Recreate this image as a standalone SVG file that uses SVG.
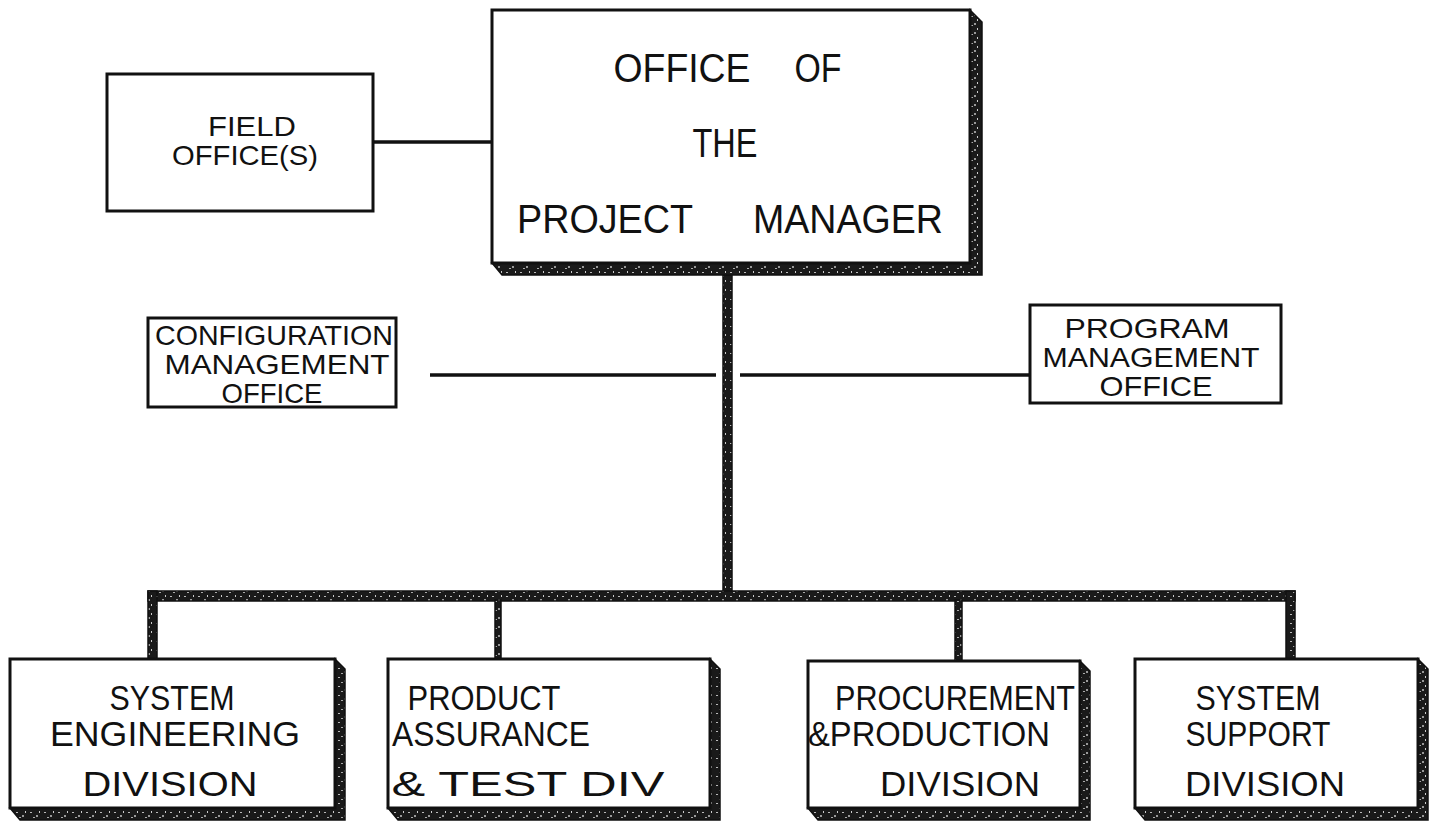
<svg xmlns="http://www.w3.org/2000/svg" width="1436" height="825" viewBox="0 0 1436 825">
<defs>
<pattern id="speck" width="14" height="9" patternUnits="userSpaceOnUse">
<rect width="14" height="9" fill="#1a1a1a"/>
<rect x="2" y="2" width="2" height="1" fill="#bbb"/>
<rect x="8" y="5" width="2" height="2" fill="#999"/>
<rect x="11" y="1" width="1" height="2" fill="#ccc"/>
<rect x="5" y="7" width="2" height="1" fill="#aaa"/>
</pattern>
<style>
.box{fill:#fff;stroke:#111;stroke-width:3}
.sh{fill:url(#speck);stroke:#111;stroke-width:1.5}
.ln{stroke:#111;stroke-width:3.5;fill:none}
.band{fill:url(#speck);stroke:#111;stroke-width:1.5}
text{font-family:"Liberation Sans",Arial,sans-serif;fill:#111;text-anchor:middle}
.big{font-size:41px}
.fld{font-size:28px}
.mid{font-size:28px}
.div{font-size:35px}
</style>
</defs>
<rect width="1436" height="825" fill="#fff"/>

<g id="connectors">
<line class="ln" x1="373" y1="142" x2="492" y2="142"/>
<line class="ln" x1="430" y1="375" x2="716" y2="375"/>
<line class="ln" x1="740" y1="375" x2="1030" y2="375"/>
<rect class="band" x="723" y="275" width="9" height="322"/>
<rect class="band" x="148" y="591" width="1147" height="10"/>
<rect class="band" x="148" y="591" width="9" height="68"/>
<rect class="band" x="495" y="600" width="6" height="59"/>
<rect class="band" x="955" y="600" width="7" height="61"/>
<rect class="band" x="1286" y="591" width="9" height="68"/>
</g>

<g id="pm">
<polygon class="sh" points="970,10 982,22 982,275 502,275 492,263 970,263"/>
<rect class="box" x="492" y="10" width="478" height="253"/>
<text class="big" x="682" y="82" textLength="137" lengthAdjust="spacingAndGlyphs">OFFICE</text>
<text class="big" x="818" y="82" textLength="47" lengthAdjust="spacingAndGlyphs">OF</text>
<text class="big" x="725" y="157" textLength="65" lengthAdjust="spacingAndGlyphs">THE</text>
<text class="big" x="605" y="233" textLength="176" lengthAdjust="spacingAndGlyphs">PROJECT</text>
<text class="big" x="848" y="233" textLength="190" lengthAdjust="spacingAndGlyphs">MANAGER</text>
</g>

<g id="field">
<rect class="box" x="107" y="74" width="266" height="137"/>
<text class="fld" x="252" y="136" textLength="88" lengthAdjust="spacingAndGlyphs">FIELD</text>
<text class="fld" x="245" y="165" textLength="146" lengthAdjust="spacingAndGlyphs">OFFICE(S)</text>
</g>

<g id="config">
<rect class="box" x="148" y="318" width="248" height="89"/>
<text class="mid" x="274" y="345" textLength="238" lengthAdjust="spacingAndGlyphs">CONFIGURATION</text>
<text class="mid" x="277" y="374" textLength="225" lengthAdjust="spacingAndGlyphs">MANAGEMENT</text>
<text class="mid" x="272" y="403" textLength="101" lengthAdjust="spacingAndGlyphs">OFFICE</text>
</g>

<g id="program">
<rect class="box" x="1030" y="305" width="251" height="98"/>
<text class="mid" x="1147" y="338" textLength="165" lengthAdjust="spacingAndGlyphs">PROGRAM</text>
<text class="mid" x="1151" y="367" textLength="217" lengthAdjust="spacingAndGlyphs">MANAGEMENT</text>
<text class="mid" x="1156" y="396" textLength="113" lengthAdjust="spacingAndGlyphs">OFFICE</text>
</g>

<g id="sysEng">
<polygon class="sh" points="335,659 345,669 345,820 20,820 10,808 335,808"/>
<rect class="box" x="10" y="659" width="325" height="149"/>
<text class="div" x="172" y="710" textLength="125" lengthAdjust="spacingAndGlyphs">SYSTEM</text>
<text class="div" x="175" y="746" textLength="250" lengthAdjust="spacingAndGlyphs">ENGINEERING</text>
<text class="div" x="170" y="796" textLength="175" lengthAdjust="spacingAndGlyphs">DIVISION</text>
</g>

<g id="prodAssur">
<polygon class="sh" points="710,659 720,669 720,820 398,820 388,808 710,808"/>
<rect class="box" x="388" y="659" width="322" height="149"/>
<text class="div" x="484" y="710" textLength="153" lengthAdjust="spacingAndGlyphs">PRODUCT</text>
<text class="div" x="491" y="746" textLength="198" lengthAdjust="spacingAndGlyphs">ASSURANCE</text>
<text class="div" x="528" y="796" textLength="273" lengthAdjust="spacingAndGlyphs">&amp; TEST DIV</text>
</g>

<g id="procure">
<polygon class="sh" points="1080,661 1090,671 1090,820 818,820 808,808 1080,808"/>
<rect class="box" x="808" y="661" width="272" height="147"/>
<text class="div" x="955" y="710" textLength="240" lengthAdjust="spacingAndGlyphs">PROCUREMENT</text>
<text class="div" x="929" y="746" textLength="242" lengthAdjust="spacingAndGlyphs">&amp;PRODUCTION</text>
<text class="div" x="960" y="796" textLength="160" lengthAdjust="spacingAndGlyphs">DIVISION</text>
</g>

<g id="support">
<polygon class="sh" points="1418,659 1428,669 1428,820 1145,820 1135,808 1418,808"/>
<rect class="box" x="1135" y="659" width="283" height="149"/>
<text class="div" x="1258" y="710" textLength="125" lengthAdjust="spacingAndGlyphs">SYSTEM</text>
<text class="div" x="1258" y="746" textLength="145" lengthAdjust="spacingAndGlyphs">SUPPORT</text>
<text class="div" x="1265" y="796" textLength="160" lengthAdjust="spacingAndGlyphs">DIVISION</text>
</g>
</svg>
